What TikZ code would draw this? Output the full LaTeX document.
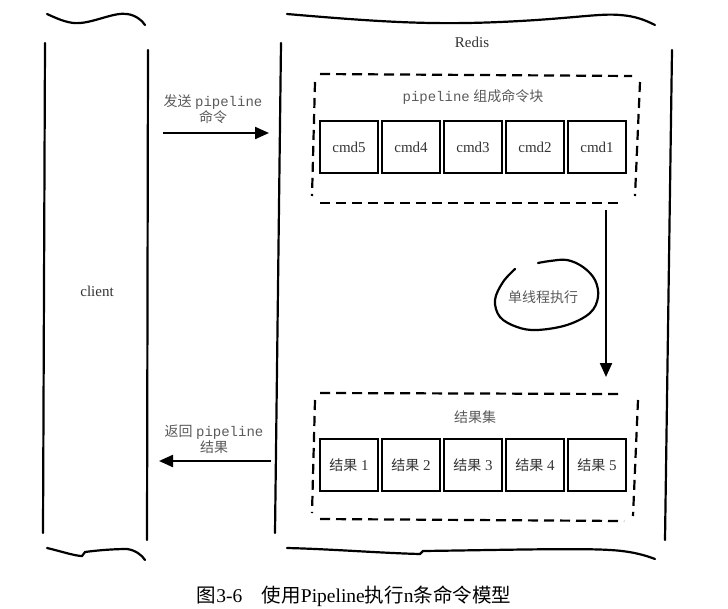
\documentclass[tikz,border=0pt]{standalone}
\usepackage{fontspec}
\setmainfont{Liberation Serif}
\newfontfamily\cjk{Noto Sans CJK SC}
\newfontfamily\mono{Liberation Mono}
\usetikzlibrary{arrows.meta}
\definecolor{labelgray}{HTML}{5A5A5A}
\definecolor{serifgray}{HTML}{333333}
\tikzset{
  stroke/.style={line width=2.2pt, line cap=round, black},
  dashline/.style={line width=2.2pt, dash pattern=on 10pt off 6pt, black},
  arr/.style={line width=2.2pt, -{Triangle[length=14pt,width=12pt]}},
  cmdbox/.style={draw, line width=2.2pt, minimum width=58pt, minimum height=52pt, inner sep=0pt,
    font=\fontsize{15pt}{17pt}\selectfont, text=serifgray},
  serif/.style={font=\fontsize{15pt}{17pt}\selectfont, text=serifgray},
  hand/.style={font=\fontsize{14pt}{16pt}\selectfont, text=labelgray, align=center, inner sep=0pt},
}
\begin{document}
\begin{tikzpicture}[x=1pt,y=-1pt]
\useasboundingbox (0,0) rectangle (728,608);
% client container
\draw[stroke] (45,43) -- (43,533);
\draw[stroke] (148,50) -- (147,540);
\draw[stroke] (47,14) .. controls (60,20) and (70,24) .. (80,23) .. controls (95,22) and (115,12) .. (127,14) .. controls (135,15) and (142,20) .. (145,25);
\draw[stroke] (47,548) .. controls (60,551) and (75,556) .. (82,556) -- (85,552) .. controls (100,550) and (115,549) .. (127,549) .. controls (135,550) and (142,555) .. (145,560);
\node[serif] (client) at (97,291) {client};
% Redis container
\draw[stroke] (281,43) -- (275,533);
\draw[stroke] (672,50) -- (665,540);
\draw[stroke] (287,14) .. controls (380,22) and (430,25) .. (500,22) .. controls (570,19) and (600,13) .. (620,15) .. controls (635,16) and (645,20) .. (655,25);
\draw[stroke] (287,548) .. controls (330,549) and (380,553) .. (420,554) -- (423,551) .. controls (500,550) and (580,548) .. (610,550) .. controls (630,551) and (645,555) .. (655,559);
\node[serif] (redis) at (472,42) {Redis};
% upper dashed group
\draw[dashline] (320,74) -- (632,76);
\draw[dashline] (320,203) -- (624,203);
\draw[dashline] (315,82) -- (312,196);
\draw[dashline] (640,82) -- (635,196);
\node[hand] (cmdtitle) at (473,97) {{\mono pipeline} {\cjk 组成命令块}};
\node[cmdbox] (c5) at (349,147) {cmd5};
\node[cmdbox] (c4) at (411,147) {cmd4};
\node[cmdbox] (c3) at (473,147) {cmd3};
\node[cmdbox] (c2) at (535,147) {cmd2};
\node[cmdbox] (c1) at (597,147) {cmd1};
% lower dashed group
\draw[dashline] (320,393) -- (622,394);
\draw[dashline] (320,519) -- (624,521);
\draw[dashline] (315,400) -- (312,513);
\draw[dashline] (638,400) -- (633,516);
\node[hand] (restitle) at (475,417) {\cjk 结果集};
\node[cmdbox] (r1) at (349,465) {{\cjk\fontsize{14pt}{16pt}\selectfont 结果} 1};
\node[cmdbox] (r2) at (411,465) {{\cjk\fontsize{14pt}{16pt}\selectfont 结果} 2};
\node[cmdbox] (r3) at (473,465) {{\cjk\fontsize{14pt}{16pt}\selectfont 结果} 3};
\node[cmdbox] (r4) at (535,465) {{\cjk\fontsize{14pt}{16pt}\selectfont 结果} 4};
\node[cmdbox] (r5) at (597,465) {{\cjk\fontsize{14pt}{16pt}\selectfont 结果} 5};
% send arrow
\coordinate (sendS) at (163,133);
\coordinate (sendE) at (269,133);
\draw[arr] (sendS) -- (sendE);
\node[hand] (sendlabel) at (213,109) {{\cjk 发送} {\mono pipeline}\\{\cjk 命令}};
% return arrow
\coordinate (retS) at (271,461);
\coordinate (retE) at (159,461);
\draw[arr] (retS) -- (retE);
\node[hand] (retlabel) at (214,439) {{\cjk 返回} {\mono pipeline}\\{\cjk 结果}};
% down arrow
\coordinate (downS) at (606,210);
\coordinate (downE) at (606,377);
\draw[arr] (downS) -- (downE);
% loop
\draw[stroke] plot[smooth, tension=0.6] coordinates {(515,269) (503,282) (495,300) (500,317) (517,327) (537,330) (567,325) (590,313) (598,297) (595,280) (583,267) (567,260) (550,261) (538,263)};
\node[hand] (single) at (543,297) {\cjk 单线程执行};
% caption
\node[font=\fontsize{19.5pt}{21pt}\selectfont, inner sep=0pt] (caption) at (354,596) {{\cjk 图}3-6\hspace{1em}{\cjk 使用}Pipeline{\cjk 执行}n{\cjk 条命令模型}};
\end{tikzpicture}
\end{document}
